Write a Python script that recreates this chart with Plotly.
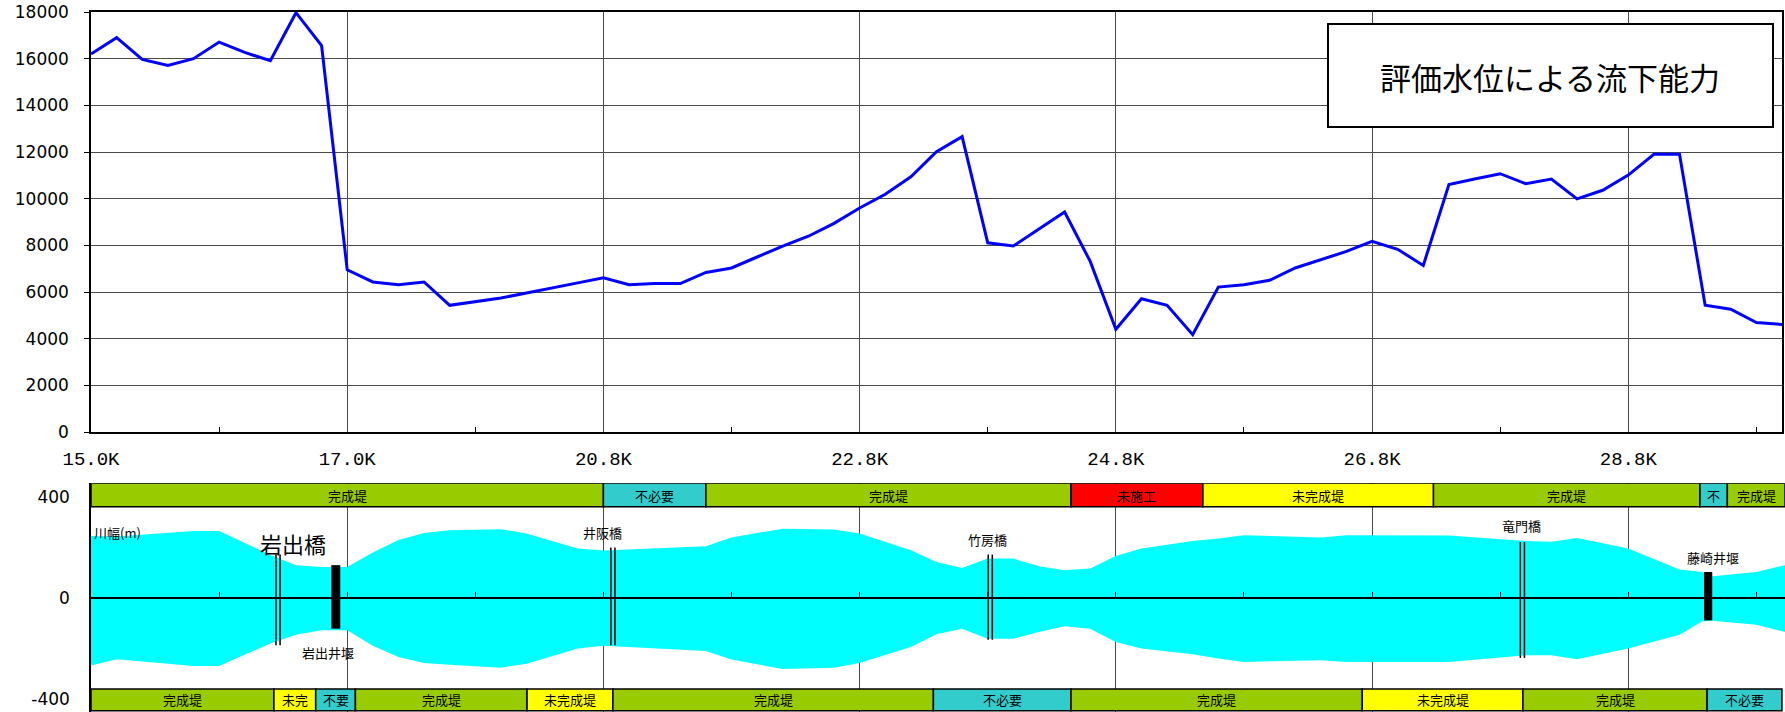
import plotly.graph_objects as go

W, H = 1785, 712

# ---------------- top chart data ----------------
station = list(range(67))
capacity = [16200, 16900, 15970, 15710, 16000, 16710, 16270, 15910, 17970, 16560,
            6950, 6430, 6310, 6430, 5430, 5600, 5740, 5960, 6190, 6390,
            6610, 6310, 6360, 6360, 6840, 7030, 7500, 7970, 8390, 8940,
            9600, 10190, 10940, 12010, 12660, 8110, 7970, 8700, 9430, 7310,
            4400, 5710, 5430, 4170, 6210, 6310, 6500, 7030, 7400, 7740,
            8170, 7830, 7140, 10610, 10840, 11070, 10640, 10840, 9990, 10360,
            11010, 11900, 11900, 5430, 5260, 4690, 4610]
tick_pos = [0, 10, 20, 30, 40, 50, 60]
tick_labels = ["15.0K", "17.0K", "20.8K", "22.8K", "24.8K", "26.8K", "28.8K"]
minor_pos = [5, 15, 25, 35, 45, 55, 65]
title_text = "評価水位による流下能力"

# ---------------- bottom chart data ----------------
upper_x = [0, 1, 4, 5, 7, 8, 9, 10, 11, 12, 13, 14, 16, 17, 19, 20, 24, 25, 27, 29, 30,
           32, 33, 34, 35, 36, 37, 38, 39, 40, 41, 43, 44, 45, 48, 49, 53, 56, 57, 58,
           60, 62, 62.9, 63.3, 65, 66.12]
upper_w = [246, 244, 266, 266, 170, 130, 123, 123, 180, 230, 258, 269, 273, 256, 196, 188,
           205, 240, 275, 272, 256, 189, 143, 119, 156, 156, 126, 110, 117, 166, 196,
           226, 236, 249, 240, 249, 248, 226, 223, 238, 196, 113, 103, 86, 103, 130]
lower_x = [0, 1, 4, 5, 7, 8, 9, 10, 11, 12, 13, 14, 16, 17, 19, 20, 24, 25, 27, 29, 30,
           32, 33, 34, 35, 36, 37, 38, 39, 40, 41, 43, 44, 45, 48, 49, 53, 56, 57, 58,
           60, 62, 62.9, 63.3, 65, 66.12]
lower_w = [268, 244, 270, 270, 181, 146, 128, 128, 190, 235, 258, 265, 277, 261, 201, 190,
           211, 245, 282, 277, 258, 195, 144, 122, 162, 162, 135, 113, 122, 175, 201,
           224, 241, 254, 248, 254, 254, 228, 228, 244, 201, 146, 93, 91, 107, 135]

bridge_names = ["岩出橋", "井阪橋", "竹房橋", "竜門橋"]
bridge_x = [7.3, 20.37, 35.1, 55.87]
bridge_top = [172, 200, 172, 222]
bridge_bot = [-188, -188, -166, -238]
bridge_label_x = [7.9, 19.95, 35.0, 55.85]
bridge_label_y = [218, 260, 232, 289]
bridge_label_size = [22, 13, 13, 13]

weir_names = ["岩出井堰", "藤崎井堰"]
weir_x0 = [9.38, 62.96]
weir_x1 = [9.73, 63.28]
weir_top = [130, 103]
weir_bot = [-122, -89]
weir_label_x = [9.26, 63.3]
weir_label_y = [-215, 160]

top_band_edges = [0, 20, 24, 38.25, 43.4, 52.4, 62.8, 63.87, 66.12]
top_band_labels = ["完成堤", "不必要", "完成堤", "未施工", "未完成堤", "完成堤", "不", "完成堤"]
bot_band_edges = [0, 7.14, 8.77, 10.32, 17.02, 20.37, 32.88, 38.25, 49.62, 55.89, 63.08, 66.0]
bot_band_labels = ["完成堤", "未完", "不要", "完成堤", "未完成堤", "完成堤", "不必要",
                   "完成堤", "未完成堤", "完成堤", "不必要"]
band_colors = {"完成堤": "#99CC00", "不必要": "#33CCCC", "不要": "#33CCCC", "不": "#33CCCC",
               "未施工": "#FF0000", "未完成堤": "#FFFF00", "未完": "#FFFF00"}
top_band_y = (362, 455)
bot_band_y = (-448, -362)

width_label = "川幅(m)"


# ---------------- layout geometry (page pixels -> paper) ----------------
def px_x(p):
    return p / W


def px_y(p):
    return 1 - p / H


CJK = "Noto Sans CJK JP"

fig = go.Figure()

# capacity line
fig.add_trace(go.Scatter(x=station, y=capacity, mode="lines",
                         line=dict(color="#0000FF", width=3),
                         xaxis="x", yaxis="y", hoverinfo="skip"))

# river width polygon
poly_x = upper_x + lower_x[::-1]
poly_y = upper_w + [-v for v in lower_w[::-1]]
fig.add_trace(go.Scatter(x=poly_x, y=poly_y, mode="lines", fill="toself",
                         fillcolor="#00FFFF", line=dict(width=0, color="#00FFFF"),
                         xaxis="x2", yaxis="y2", hoverinfo="skip"))

shapes = []
annotations = []

# bridges: double lines
for bx, bt, bb in zip(bridge_x, bridge_top, bridge_bot):
    for off in (-0.08, 0.08):
        fig.add_trace(go.Scatter(x=[bx + off, bx + off], y=[bb, bt], mode="lines",
                                 line=dict(color="black", width=1.5),
                                 xaxis="x2", yaxis="y2", hoverinfo="skip"))
for name, lx, ly, fs in zip(bridge_names, bridge_label_x, bridge_label_y, bridge_label_size):
    annotations.append(dict(x=lx, y=ly, xref="x2", yref="y2", text=name, showarrow=False,
                            xanchor="center", yanchor="middle",
                            font=dict(family=CJK, size=fs, color="black")))

# weirs
for x0, x1, t, b in zip(weir_x0, weir_x1, weir_top, weir_bot):
    shapes.append(dict(type="rect", xref="x2", yref="y2", x0=x0, x1=x1, y0=b, y1=t,
                       fillcolor="black", line=dict(width=0), layer="above"))
for name, lx, ly in zip(weir_names, weir_label_x, weir_label_y):
    annotations.append(dict(x=lx, y=ly, xref="x2", yref="y2", text=name, showarrow=False,
                            xanchor="center", yanchor="middle",
                            font=dict(family=CJK, size=13, color="black")))


# bands
def add_bands(edges, labels, yr):
    for i, lab in enumerate(labels):
        shapes.append(dict(type="rect", xref="x2", yref="y2", x0=edges[i], x1=edges[i + 1],
                           y0=yr[0], y1=yr[1], fillcolor=band_colors[lab],
                           line=dict(color="black", width=1.5), layer="above"))
        annotations.append(dict(x=(edges[i] + edges[i + 1]) / 2, y=(yr[0] + yr[1]) / 2,
                                xref="x2", yref="y2", text=lab, showarrow=False,
                                xanchor="center", yanchor="middle",
                                font=dict(family=CJK, size=13, color="black")))


add_bands(top_band_edges, top_band_labels, top_band_y)
add_bands(bot_band_edges, bot_band_labels, bot_band_y)

annotations.append(dict(x=0.05, y=260, xref="x2", yref="y2", text=width_label,
                        showarrow=False, xanchor="left", yanchor="middle",
                        font=dict(family=CJK, size=13, color="black")))

# title box
shapes.append(dict(type="rect", xref="paper", yref="paper",
                   x0=px_x(1328), x1=px_x(1773), y0=px_y(127), y1=px_y(24),
                   fillcolor="white", line=dict(color="black", width=2), layer="above"))
annotations.append(dict(x=px_x(1550), y=px_y(76), xref="paper", yref="paper",
                        text=title_text, showarrow=False, xanchor="center", yanchor="middle",
                        font=dict(family=CJK, size=31, color="black")))

grid_c = "#4a4a4a"
fig.update_layout(
    width=W, height=H, margin=dict(l=0, r=0, t=0, b=0),
    paper_bgcolor="white", plot_bgcolor="white", showlegend=False,
    xaxis=dict(domain=[px_x(91), px_x(1782)], range=[0, 66], anchor="y",
               tickmode="array", tickvals=tick_pos, ticktext=tick_labels,
               showgrid=True, gridcolor=grid_c, gridwidth=1,
               showline=True, mirror=True, linecolor="black", linewidth=1.5,
               ticks="", zeroline=False, automargin=False,
               tickfont=dict(family="Liberation Mono", size=19, color="black"),
               ticklabelstandoff=8,
               minor=dict(tickvals=minor_pos, ticks="inside", ticklen=5,
                          tickcolor="black", showgrid=False)),
    yaxis=dict(domain=[px_y(432), px_y(12)], range=[0, 18000], anchor="x",
               dtick=2000, tickformat="d", showgrid=True, gridcolor=grid_c, gridwidth=1,
               showline=True, mirror=True, linecolor="black", linewidth=1.5,
               ticks="outside", ticklen=5, tickcolor="black", zeroline=False,
               automargin=False, ticklabelstandoff=12, ticklabeloverflow="allow",
               tickfont=dict(family="DejaVu Sans", size=17, color="black")),
    xaxis2=dict(domain=[px_x(91), 1.0], range=[0, 66.12], anchor="free",
                position=px_y(597.9),
                tickmode="array", tickvals=tick_pos, showticklabels=False,
                showgrid=True, gridcolor=grid_c, gridwidth=1,
                showline=True, linecolor="black", linewidth=1.5,
                ticks="inside", ticklen=5, tickcolor="black", zeroline=False,
                automargin=False,
                minor=dict(tickvals=minor_pos, ticks="inside", ticklen=5,
                           tickcolor="black", showgrid=False)),
    yaxis2=dict(domain=[0, px_y(483.3)], range=[-453, 455], anchor="x2",
                tickmode="array", tickvals=[-400, 0, 400], ticktext=["-400", "0", "400"],
                showgrid=False, zeroline=False, showline=True, linecolor="black",
                linewidth=1.5, ticks="", automargin=False, ticklabelstandoff=16,
                ticklabeloverflow="allow",
                tickfont=dict(family="DejaVu Sans", size=17, color="black")),
    shapes=shapes, annotations=annotations,
)

fig.write_html("out.html",
               config={"displayModeBar": False},
               post_script="document.body.style.margin='0px';"
                           "document.body.style.overflow='hidden';")
